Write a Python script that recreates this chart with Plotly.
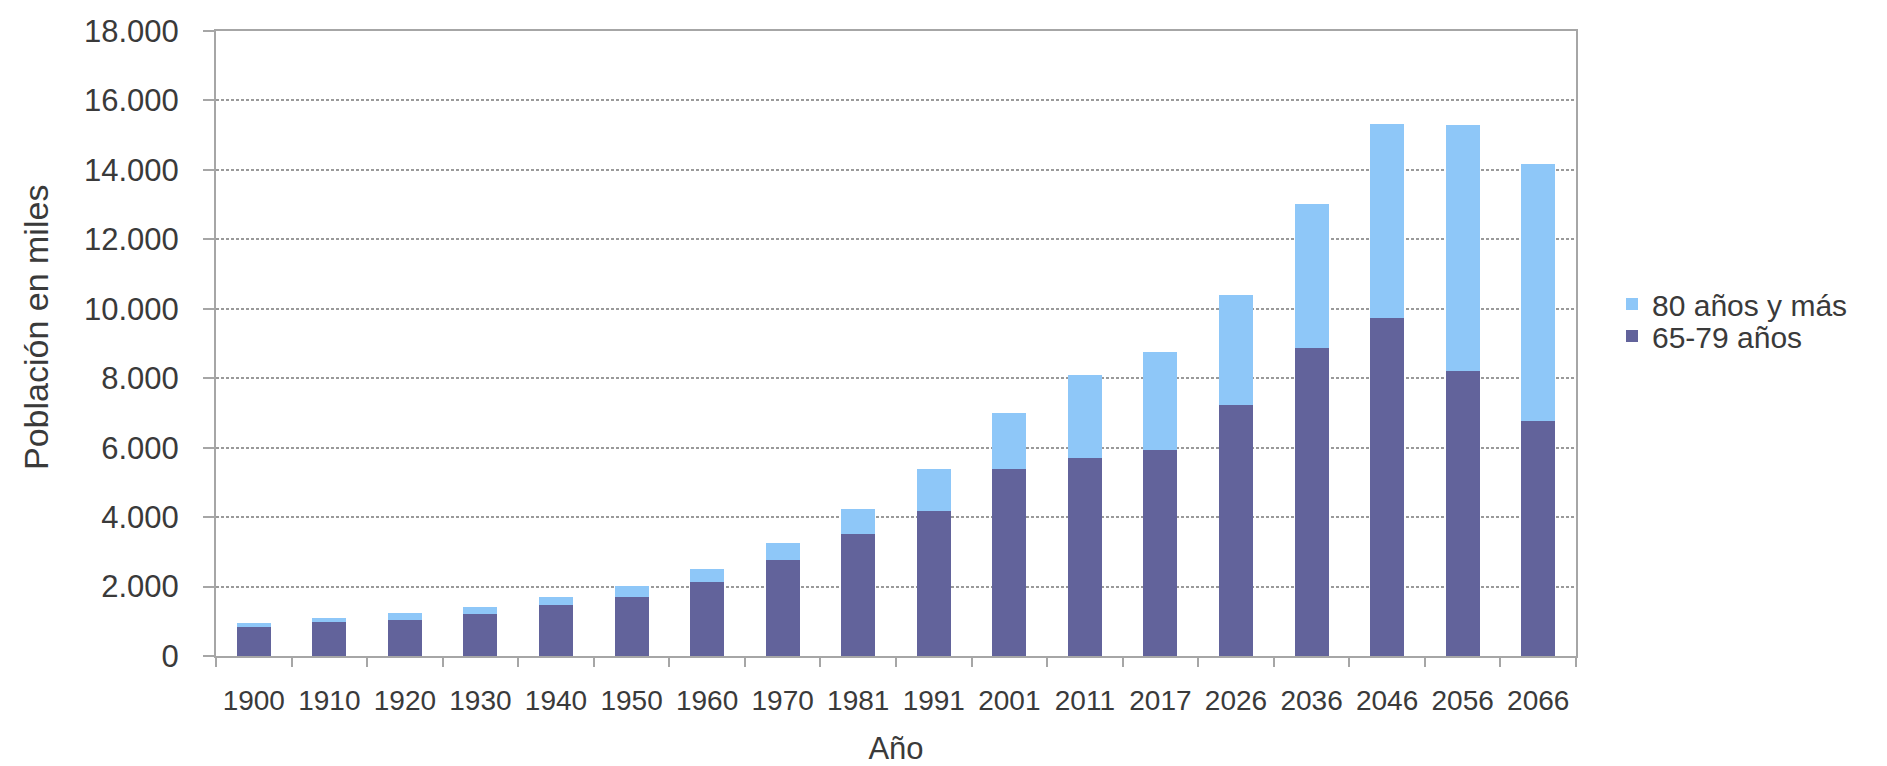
import plotly.graph_objects as go

years = ["1900", "1910", "1920", "1930", "1940", "1950", "1960", "1970", "1981",
         "1991", "2001", "2011", "2017", "2026", "2036", "2046", "2056", "2066"]
age_65_79 = [840, 966, 1035, 1217, 1468, 1700, 2140, 2755, 3502,
             4190, 5374, 5694, 5936, 7215, 8875, 9745, 8220, 6760]
age_80_plus = [116, 116, 190, 183, 242, 309, 368, 495, 737,
               1184, 1620, 2396, 2821, 3185, 4135, 5565, 7060, 7410]
y_ticks = [0, 2000, 4000, 6000, 8000, 10000, 12000, 14000, 16000, 18000]
y_tick_text = ["0", "2.000", "4.000", "6.000", "8.000", "10.000",
               "12.000", "14.000", "16.000", "18.000"]

DARK = "#62639b"
LIGHT = "#8ec7f8"
TEXT = "#3a3a3a"
AXIS = "#a6a6a6"
FONT = "Liberation Sans, Arial, sans-serif"

W, H = 1887, 766
L, R, T, B = 216, 311, 31, 110
PW = W - L - R
PH = H - T - B

def px_x(x):
    return (x - L) / PW

def px_y(y):
    return (H - B - y) / PH

fig = go.Figure()
fig.add_trace(go.Bar(x=years, y=age_65_79, name="65-79 años",
                     marker=dict(color=DARK, line=dict(width=0)),
                     legend="legend2"))
fig.add_trace(go.Bar(x=years, y=age_80_plus, name="80 años y más",
                     marker=dict(color=LIGHT, line=dict(width=0)),
                     legend="legend"))

legend_common = dict(xanchor="left", yanchor="middle",
                     font=dict(size=30, color=TEXT),
                     bgcolor="rgba(0,0,0,0)", itemwidth=30)

fig.update_layout(
    template="none",
    barmode="stack",
    bargap=0.55,
    width=W, height=H,
    margin=dict(l=L, r=R, t=T, b=B, autoexpand=False),
    paper_bgcolor="white",
    plot_bgcolor="white",
    font=dict(family=FONT, size=28, color=TEXT),
    showlegend=True,
    legend=dict(x=px_x(1612), y=px_y(304), **legend_common),
    legend2=dict(x=px_x(1612), y=px_y(336), **legend_common),
    xaxis=dict(
        type="category",
        title=dict(text="Año", font=dict(size=31, color=TEXT), standoff=32),
        showline=True, linecolor=AXIS, linewidth=2, mirror=True,
        ticks="outside", tickson="boundaries", ticklen=9, tickwidth=2,
        tickcolor=AXIS, showgrid=False, automargin=False,
        tickfont=dict(size=28, color=TEXT), ticklabelstandoff=18,
    ),
    yaxis=dict(
        range=[0, 18000],
        tickvals=y_ticks, ticktext=y_tick_text,
        showline=True, linecolor=AXIS, linewidth=2, mirror=True,
        ticks="outside", ticklen=11, tickwidth=2, tickcolor=AXIS,
        showgrid=True, gridcolor="#9a9a9a", gridwidth=2,
        griddash="3px,2px", zeroline=False, automargin=False,
        tickfont=dict(size=31, color=TEXT), ticklabelstandoff=18,
    ),
    annotations=[dict(
        text="Población en miles", textangle=-90,
        xref="paper", yref="paper", x=px_x(36), y=px_y(328),
        xanchor="center", yanchor="middle", showarrow=False,
        font=dict(size=34, color=TEXT),
    )],
)

fig.write_html("out.html")
